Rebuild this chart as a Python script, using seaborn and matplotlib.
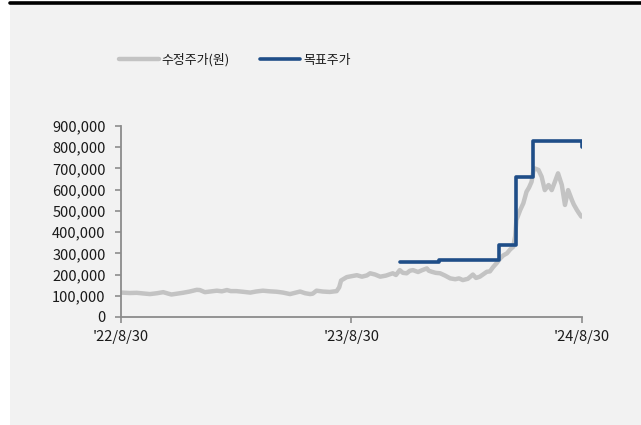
import matplotlib
matplotlib.use("Agg")
import matplotlib.pyplot as plt
import matplotlib.dates as mdates
from matplotlib.ticker import FuncFormatter, FixedLocator
from matplotlib.patches import Rectangle
from matplotlib.lines import Line2D
import numpy as np
import pandas as pd
import seaborn as sns

# ---- data ----
price_dates = [
    "2022-08-31", "2022-09-13", "2022-09-24", "2022-10-04", "2022-10-15", "2022-10-26",
    "2022-11-05", "2022-11-13", "2022-11-18", "2022-11-27", "2022-12-06", "2022-12-17",
    "2022-12-28", "2023-01-02", "2023-01-10", "2023-01-18", "2023-01-29", "2023-02-06",
    "2023-02-14", "2023-02-20", "2023-03-01", "2023-03-11", "2023-03-23", "2023-04-01",
    "2023-04-12", "2023-04-23", "2023-05-04", "2023-05-14", "2023-05-25", "2023-06-02",
    "2023-06-10", "2023-06-18", "2023-06-26", "2023-06-30", "2023-07-06", "2023-07-16",
    "2023-07-27", "2023-08-07", "2023-08-11", "2023-08-14", "2023-08-23", "2023-08-30",
    "2023-09-08", "2023-09-16", "2023-09-24", "2023-09-29", "2023-10-07", "2023-10-15",
    "2023-10-24", "2023-11-04", "2023-11-09", "2023-11-15", "2023-11-20", "2023-11-26",
    "2023-12-01", "2023-12-06", "2023-12-14", "2023-12-20", "2023-12-28", "2023-12-31",
    "2024-01-05", "2024-01-11", "2024-01-18", "2024-01-26", "2024-02-03", "2024-02-11",
    "2024-02-17", "2024-02-23", "2024-03-02", "2024-03-10", "2024-03-15", "2024-03-21",
    "2024-04-01", "2024-04-06", "2024-04-11", "2024-04-17", "2024-04-22", "2024-04-27",
    "2024-05-03", "2024-05-08", "2024-05-13", "2024-05-16", "2024-05-18", "2024-05-24",
    "2024-05-29", "2024-06-03", "2024-06-07", "2024-06-11", "2024-06-14", "2024-06-16",
    "2024-06-22", "2024-06-27", "2024-07-02", "2024-07-08", "2024-07-13", "2024-07-18",
    "2024-07-23", "2024-07-29", "2024-08-03", "2024-08-08", "2024-08-14", "2024-08-17",
    "2024-08-22", "2024-08-25", "2024-08-29",
]
price_values = [
    115000, 113000, 114000, 111000, 108000, 112000,
    117000, 110000, 106000, 110000, 114000, 120000,
    128000, 127000, 117000, 120000, 124000, 121000,
    127000, 122000, 122000, 119000, 115000, 120000,
    124000, 121000, 119000, 115000, 108000, 114000,
    120000, 112000, 108000, 110000, 124000, 120000,
    118000, 122000, 140000, 172000, 188000, 192000,
    197000, 190000, 196000, 206000, 200000, 190000,
    195000, 206000, 198000, 221000, 208000, 206000,
    218000, 221000, 212000, 220000, 229000, 218000,
    213000, 208000, 206000, 195000, 182000, 178000,
    182000, 174000, 180000, 200000, 184000, 190000,
    213000, 215000, 235000, 255000, 275000, 290000,
    300000, 318000, 331000, 380000, 457000, 504000,
    536000, 590000, 610000, 637000, 690000, 700000,
    693000, 661000, 598000, 622000, 598000, 637000,
    677000, 622000, 528000, 598000, 551000, 530000,
    504000, 490000, 473000,
]
target_dates = ["2023-11-15", "2024-01-16", "2024-04-20", "2024-05-18",
                "2024-06-13", "2024-08-29", "2024-08-30"]
target_values = [260000, 270000, 340000, 660000, 830000, 830000, 800000]

series_names = ["수정주가(원)", "목표주가"]
xtick_dates = ["2022-08-30", "2023-08-30", "2024-08-30"]
xtick_labels = ["'22/8/30", "'23/8/30", "'24/8/30"]
ytick_values = list(range(0, 900001, 100000))

# ---- style ----
sns.set_theme(style="white")
plt.rcParams["font.family"] = ["Noto Sans CJK KR", "DejaVu Sans"]

W, H = 641, 425
fig = plt.figure(figsize=(W / 100, H / 100), dpi=100, facecolor="white")
fig.patches.append(Rectangle((10 / W, 0), 1 - 10 / W, 1 - 4 / H, transform=fig.transFigure,
                             facecolor="#f2f2f2", edgecolor="none", zorder=-10))
fig.add_artist(Line2D([10 / W, 1], [1 - 2.5 / H, 1 - 2.5 / H], transform=fig.transFigure,
                      color="black", linewidth=2.6))

ax = fig.add_axes([121 / W, 1 - 317 / H, (582 - 121) / W, (317 - 126) / H])
ax.set_facecolor("none")

price_df = pd.DataFrame({"date": pd.to_datetime(price_dates), "value": price_values})
target_df = pd.DataFrame({"date": pd.to_datetime(target_dates), "value": target_values})

gray = "#c3c3c3"
blue = "#1f4e88"
sns.lineplot(data=price_df, x="date", y="value", ax=ax, color=gray, linewidth=3.2,
             label=series_names[0], legend=False)
sns.lineplot(data=target_df, x="date", y="value", ax=ax, color=blue, linewidth=2.6,
             drawstyle="steps-post", label=series_names[1], legend=False)

ax.set_xlim(pd.Timestamp(xtick_dates[0]), pd.Timestamp(xtick_dates[-1]))
ax.set_ylim(0, 900000)
ax.xaxis.set_major_locator(FixedLocator(mdates.date2num(pd.to_datetime(xtick_dates))))
ax.set_xticklabels(xtick_labels)
ax.set_yticks(ytick_values)
ax.yaxis.set_major_formatter(FuncFormatter(lambda v, p: f"{int(v):,}"))
ax.set_xlabel("")
ax.set_ylabel("")

for s in ["top", "right"]:
    ax.spines[s].set_visible(False)
for s in ["left", "bottom"]:
    ax.spines[s].set_color("#8c8c8c")
    ax.spines[s].set_linewidth(1.3)
ax.tick_params(axis="both", which="major", direction="out", length=4, width=1.2,
               color="#8c8c8c", labelsize=10.5, labelcolor="#1a1a1a")
ax.tick_params(axis="y", pad=7)
ax.tick_params(axis="x", pad=5)
ax.tick_params(left=True, bottom=True)

handles = [Line2D([], [], color=gray, linewidth=3.2), Line2D([], [], color=blue, linewidth=2.6)]
fig.legend(handles, series_names, loc="center", bbox_to_anchor=(234.5 / W, 1 - 60 / H),
           ncol=2, frameon=False, fontsize=9.3, handlelength=3.1, handletextpad=0.25,
           columnspacing=2.3, labelcolor="#1a1a1a")

fig.savefig("out.png", dpi=100, facecolor=fig.get_facecolor())
